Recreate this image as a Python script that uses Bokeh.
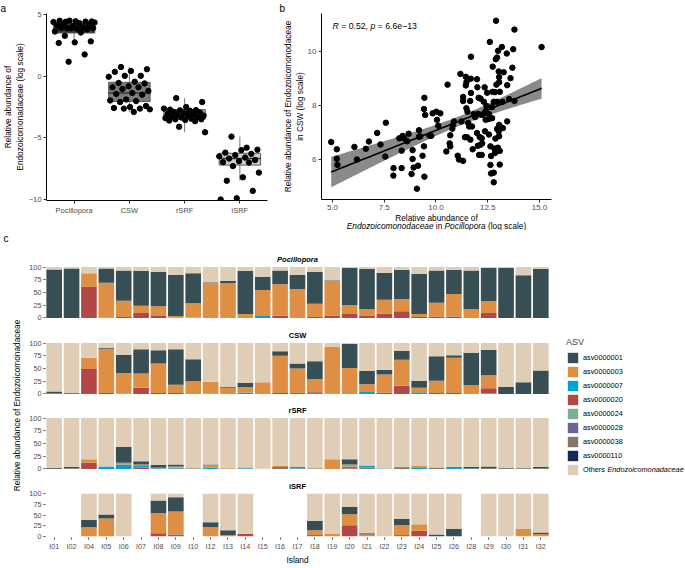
import math
import numpy as np
from bokeh.plotting import figure
from bokeh.models import (FactorRange, Range1d, Label, Legend, LegendItem, Title,
                          FixedTicker, PrintfTickFormatter, ColumnDataSource)
from bokeh.layouts import row, column
from bokeh.embed import file_html
from bokeh.resources import INLINE

# ------------------------------------------------------------------ data
# panel a : log relative abundance per compartment
groups = ["Pocillopora", "CSW", "rSRF", "iSRF"]
poc_vals = [4.41, 4.43, 4.45, 4.49, 4.42, 4.50, 4.39, 4.30, 4.23, 4.15, 4.07, 4.10, 3.94, 3.88,
            3.90, 3.85, 3.92, 3.80, 3.88, 3.62, 3.54, 3.27, 2.82, 2.74, 2.69, 1.76, 1.17, 4.35]
csw_vals = [0.74, 0.56, 0.42, 0.35, 0.03, 0.03, -0.05, -0.45, -0.55, -0.59, -0.82, -0.90, -0.90,
            -1.04, -1.20, -1.36, -1.44, -1.50, -1.89, -1.97, -2.02, -2.10, -2.42, -2.50, -2.58,
            -2.63, -2.63, -2.69, -2.90]
rsrf_vals = [-1.78, -2.10, -2.50, -2.71, -2.75, -2.77, -2.63, -2.80, -2.90, -2.95, -3.00, -3.05,
             -3.10, -3.15, -3.20, -3.20, -3.25, -3.30, -3.35, -3.40, -3.45, -3.50, -3.50, -3.55,
             -3.60, -3.65, -4.10, -4.55, -2.85]
isrf_vals = [-4.90, -5.96, -6.00, -6.20, -6.30, -6.40, -6.50, -6.60, -6.68, -6.80, -6.90, -6.97,
             -7.00, -7.29, -7.82, -8.20, -8.48, -9.30, -9.90, -10.00, -5.80]
box_lo = [2.65, -2.90, -4.55, -8.48]
box_q1 = [3.50, -2.05, -3.48, -7.21]
box_med = [3.80, -1.36, -3.16, -6.68]
box_q3 = [4.30, -0.50, -2.71, -6.25]
box_hi = [4.55, 0.74, -1.78, -4.90]

# panel b : Pocillopora vs CSW
b_x = [4.94, 5.21, 5.21, 5.24, 6.06, 6.18, 6.61, 6.76, 7.16, 7.32,
       7.58, 7.55, 7.95, 7.94, 8.23, 8.34, 8.34, 8.39, 8.47, 8.68,
       8.61, 8.87, 8.87, 8.82, 8.92, 9.08, 9.13, 9.18, 9.18, 9.24,
       9.35, 9.42, 9.44, 9.42, 9.48, 9.44, 9.68, 9.77, 9.84, 10.02,
       10.21, 10.05, 10.11, 10.56, 10.50, 10.69, 10.66, 10.69, 10.82, 10.79,
       10.87, 11.05, 11.11, 11.18, 11.23, 11.31, 11.31, 11.31, 11.44, 11.47,
       11.44, 11.40, 11.50, 11.47, 11.52, 11.56, 11.60, 11.65, 11.69, 11.68,
       11.69, 11.66, 11.74, 11.77, 11.82, 11.89, 11.98, 12.00, 12.03, 11.98,
       12.06, 12.15, 12.11, 12.21, 12.15, 12.23, 12.02, 12.08, 12.21, 12.23,
       12.40, 12.35, 12.31, 12.44, 12.40, 12.47, 12.37, 12.47, 12.60, 12.56,
       12.55, 12.56, 12.63, 12.66, 12.63, 12.66, 12.73, 12.85, 12.71, 12.79,
       12.74, 12.71, 12.79, 12.79, 12.82, 12.85, 12.87, 12.89, 12.95, 12.90,
       12.92, 12.95, 13.03, 12.95, 13.00, 13.03, 13.05, 13.05, 13.08, 12.99,
       13.05, 13.11, 13.05, 13.08, 13.08, 13.18, 13.21, 13.27, 13.23, 13.42,
       13.44, 13.44, 13.53, 13.60, 13.69, 13.73, 13.79, 13.79, 15.10]
b_y = [6.64, 6.37, 6.02, 5.79, 6.46, 5.99, 6.39, 6.66, 6.98, 6.55,
       7.36, 6.10, 5.67, 5.39, 6.78, 6.32, 5.67, 6.87, 6.77, 6.95,
       6.67, 6.34, 6.01, 5.45, 5.69, 4.90, 5.76, 7.08, 6.84, 6.85,
       6.13, 6.48, 8.29, 7.87, 7.65, 5.35, 6.88, 6.87, 7.71, 7.77,
       7.71, 7.47, 7.25, 8.78, 6.29, 6.89, 6.59, 6.48, 7.28, 7.14,
       7.41, 6.13, 5.99, 9.18, 7.41, 8.32, 8.17, 5.94, 9.07, 8.87,
       8.75, 6.82, 6.82, 7.90, 7.77, 7.35, 7.22, 8.17, 9.82, 9.00,
       8.47, 6.73, 7.22, 6.37, 7.68, 7.57, 8.98, 8.68, 7.69, 6.98,
       8.29, 8.26, 6.83, 6.78, 6.54, 6.59, 6.50, 6.16, 6.16, 7.65,
       7.47, 8.68, 8.14, 7.99, 7.80, 7.71, 7.04, 8.48, 10.37, 7.68,
       7.50, 6.92, 6.48, 6.12, 5.79, 5.47, 8.51, 8.50, 7.94, 8.14,
       9.45, 7.53, 5.14, 5.50, 6.40, 6.23, 6.77, 9.73, 9.79, 11.16,
       8.78, 7.13, 7.04, 8.14, 10.04, 9.27, 9.06, 8.87, 8.51, 6.43,
       7.28, 7.20, 6.86, 5.80, 6.31, 10.18, 8.14, 9.24, 7.16, 9.94,
       7.41, 8.76, 8.24, 9.02, 9.41, 10.10, 10.83, 8.17, 10.18]

# panel c : ASV composition per island and compartment
islands = ["I01", "I02", "I04", "I05", "I06", "I07", "I08", "I09", "I10", "I12", "I13", "I14",
           "I15", "I16", "I17", "I18", "I19", "I20", "I21", "I22", "I23", "I24", "I25", "I26",
           "I28", "I29", "I30", "I31", "I32"]

poc_asv1 = [95, 97, 0, 28, 59, 68, 67, 81, 59, 1, 5, 84, 26, 27, 28, 62, 1, 73, 79, 53, 57, 79, 63, 47, 76, 65, 98, 84, 96]
poc_asv3 = [0, 0, 27, 68, 32, 14, 19, 3, 28, 69, 68, 8, 51, 61, 55, 26, 68, 17, 13, 27, 24, 6, 27, 44, 17, 23, 0, 0, 0]
poc_asv7 = [0, 0, 0, 0, 0, 0, 0, 0, 0, 0, 0, 0, 4, 0, 0, 0, 0, 0, 0, 0, 0, 0, 0, 0, 0, 0, 0, 0, 0]
poc_asv20 = [0, 0, 61, 1, 2, 10, 4, 1, 0, 0, 0, 0, 0, 5, 0, 2, 5, 8, 4, 9, 13, 2, 3, 3, 0, 10, 0, 0, 0]
poc_asv24 = [0, 0, 0, 0, 0, 0, 0, 0, 1, 0, 0, 0, 0, 0, 2, 0, 0, 0, 0, 0, 0, 0, 0, 0, 0, 0, 0, 0, 0]
poc_asv28 = [0, 0, 0, 0, 0, 0, 0, 0, 0, 0, 0, 0, 0, 0, 0, 0, 0, 0, 0, 0, 0, 0, 0, 0, 0, 0, 0, 0, 0]
poc_asv38 = [0, 0, 0, 0, 0, 0, 0, 0, 0, 0, 0, 0, 0, 0, 0, 0, 0, 0, 0, 0, 0, 0, 0, 0, 0, 0, 0, 0, 0]
poc_asv110 = [0, 0, 0, 0, 0, 0, 0, 0, 0, 0, 0, 0, 0, 0, 0, 0, 0, 0, 0, 0, 0, 0, 0, 0, 0, 0, 0, 0, 0]
poc_others = [5, 3, 12, 3, 7, 8, 10, 15, 12, 30, 27, 8, 19, 7, 15, 10, 26, 2, 4, 11, 6, 13, 7, 6, 7, 2, 2, 16, 4]

csw_asv1 = [4, 0, 0, 1, 36, 48, 26, 70, 43, 0, 2, 9, 0, 9, 10, 35, 0, 47, 26, 9, 18, 14, 48, 5, 64, 50, 14, 23, 46]
csw_asv3 = [0, 0, 22, 87, 40, 28, 58, 16, 25, 23, 12, 10, 23, 73, 48, 25, 92, 51, 15, 35, 51, 8, 24, 69, 17, 26, 0, 0, 0]
csw_asv7 = [1, 0, 0, 0, 1, 0, 0, 0, 0, 1, 0, 3, 0, 0, 2, 0, 0, 0, 4, 0, 0, 0, 0, 0, 0, 0, 0, 0, 0]
csw_asv20 = [0, 0, 49, 2, 0, 12, 2, 2, 0, 0, 0, 0, 0, 2, 0, 1, 1, 0, 0, 3, 16, 0, 2, 2, 0, 10, 0, 0, 0]
csw_asv24 = [0, 0, 0, 0, 0, 0, 0, 0, 0, 0, 0, 0, 0, 0, 0, 0, 0, 0, 0, 0, 0, 2, 0, 0, 0, 0, 0, 0, 0]
csw_asv28 = [0, 0, 0, 0, 0, 0, 0, 0, 0, 0, 0, 0, 0, 0, 0, 0, 0, 0, 0, 0, 0, 0, 0, 0, 0, 0, 0, 0, 0]
csw_asv38 = [0, 2, 0, 0, 0, 0, 0, 0, 0, 0, 0, 0, 0, 0, 0, 3, 0, 0, 0, 0, 0, 2, 0, 0, 0, 1, 0, 0, 0]
csw_asv110 = [0, 0, 0, 0, 0, 0, 0, 0, 0, 0, 0, 0, 0, 0, 0, 0, 0, 0, 0, 0, 0, 0, 0, 0, 0, 0, 0, 0, 0]
csw_others = [95, 98, 29, 10, 23, 12, 14, 12, 32, 76, 86, 78, 77, 16, 40, 36, 7, 2, 55, 53, 15, 74, 26, 24, 19, 13, 86, 77, 54]

rsrf_asv1 = [1.5, 3, 0, 0, 31, 6, 4, 4, 0, 1, 0, 0, 0, 0, 0, 0, 0, 10, 0, 0, 0, 0, 0, 0, 3, 3, 1, 1.5, 3]
rsrf_asv3 = [0, 0, 7, 0, 3, 3, 0, 2, 2, 5, 1.5, 0, 0, 3, 0, 2, 19, 4, 0, 0, 0, 5, 0, 0, 0, 0, 0, 0, 0]
rsrf_asv7 = [0, 0, 0, 5, 9, 3, 3, 2, 1, 3, 0, 2, 0, 2, 3, 1, 0, 3, 4, 1, 0, 2, 1, 4, 1, 0, 0, 0, 0]
rsrf_asv20 = [0, 0, 12, 0, 0, 3, 0, 0, 0, 0, 0, 0, 0, 0, 0, 0, 0, 1, 0, 0, 1, 0, 0, 0, 0, 0, 0, 0, 0]
rsrf_asv24 = [0, 0, 0, 0, 0, 0, 0, 0, 0, 0, 0, 0, 0, 0, 0, 0, 0, 0, 0, 0, 0, 0, 0, 0, 0, 0, 0, 0, 0]
rsrf_asv28 = [0, 0, 0, 0, 0, 0, 0, 0, 0, 0, 0, 0, 0, 0, 0, 0, 0, 0, 0, 0, 0, 0, 0, 0, 0, 0, 0, 0, 0]
rsrf_asv38 = [0.5, 1.5, 0, 0, 0, 0, 1, 1, 0, 0, 0, 1, 0.5, 2, 1, 0, 0, 1, 3, 0, 3, 0, 2, 0, 0, 2, 1, 0, 1]
rsrf_asv110 = [0, 0, 0, 0, 0, 0, 0, 0, 0, 0, 0, 0, 0, 0, 0, 0, 0, 0, 0, 0, 0, 0, 0, 0, 0, 0, 0, 0, 0]
rsrf_others = [98, 95.5, 81, 95, 57, 85, 92, 91, 97, 91, 98.5, 97, 99.5, 93, 96, 97, 81, 81, 93, 99, 96, 93, 97, 96, 96, 95, 98, 98.5, 96]

N = None  # island not sampled
isrf_asv1 = [N, N, 17, 9, 0, N, 30, 34, N, 11, 11, 1, N, N, N, 22, 0, 17, 3, 0, 15, 0, 4, 17, N, 0, 0, 0, 4]
isrf_asv3 = [N, N, 21, 42, 0, N, 47, 54, N, 22, 3, 0, N, N, N, 11, 5, 26, 4, 0, 23, 15, 0, 0, N, 0, 0, 17, 5]
isrf_asv7 = [N, N, 0, 0, 0, N, 0, 0, N, 0, 0, 0, N, N, N, 3, 0, 0, 0, 0, 0, 0, 0, 0, N, 0, 0, 0, 0]
isrf_asv20 = [N, N, 0, 0, 0, N, 7, 0, N, 0, 0, 5, N, N, N, 0, 0, 26, 0, 0, 0, 13, 0, 0, N, 0, 0, 0, 0]
isrf_asv24 = [N, N, 0, 0, 0, N, 0, 0, N, 0, 0, 0, N, N, N, 0, 0, 0, 0, 0, 0, 0, 0, 0, N, 0, 0, 0, 0]
isrf_asv28 = [N, N, 0, 0, 0, N, 0, 4, N, 0, 0, 0, N, N, N, 0, 0, 0, 0, 0, 0, 0, 0, 0, N, 0, 0, 0, 0]
isrf_asv38 = [N, N, 0, 0, 0, N, 0, 0, N, 0, 0, 0, N, N, N, 0, 0, 0, 0, 0, 3, 0, 0, 0, N, 0, 0, 0, 0]
isrf_asv110 = [N, N, 0, 0, 0, N, 0, 0, N, 0, 0, 0, N, N, N, 0, 0, 0, 0, 0, 0, 0, 0, 0, N, 0, 0, 0, 0]
isrf_others = [N, N, 62, 49, 100, N, 16, 8, N, 67, 86, 94, N, N, N, 64, 95, 31, 93, 100, 59, 72, 96, 83, N, 100, 100, 83, 91]

asv_keys = ["asv1", "asv3", "asv7", "asv20", "asv24", "asv28", "asv38", "asv110", "others"]
asv_labels = ["asv0000001", "asv0000003", "asv0000007", "asv0000020", "asv0000024",
              "asv0000028", "asv0000038", "asv0000110", "Others"]

# ------------------------------------------------------------------ style
FONT = "Liberation Sans"
TICK = "#4d4d4d"
ASV_COLORS = {"asv1": "#374E55", "asv3": "#DF8F44", "asv7": "#00A1D5", "asv20": "#B24745",
              "asv24": "#79AF97", "asv28": "#6A6599", "asv38": "#80796B", "asv110": "#14295A",
              "others": "#DFCDB5"}
BOX_FILL = ["#393939", "#7d7d7d", "#a2a2a2", "#cdcdcd"]

ARIAL = {" ": 278, "(": 333, ")": 333, ",": 278, ".": 278, "-": 333, "=": 584, "\u2212": 584,
         "a": 556, "b": 556, "c": 500, "d": 556, "e": 556, "f": 278, "g": 556, "h": 556, "i": 222,
         "j": 222, "k": 500, "l": 222, "m": 833, "n": 556, "o": 556, "p": 556, "q": 556, "r": 333,
         "s": 500, "t": 278, "u": 556, "v": 500, "w": 722, "x": 500, "y": 500, "z": 500,
         "A": 667, "C": 722, "E": 667, "I": 278, "O": 778, "P": 667, "R": 722, "S": 667, "W": 944}


def text_w(s, size):
    return sum(ARIAL.get(ch, 556) for ch in s) * size / 1000.0


def rich(p, pieces, x, y, size, align="center"):
    """Horizontal mixed upright/italic text made of adjacent, centre-anchored labels."""
    total = sum(text_w(t, size) for t, _ in pieces)
    pos = -total / 2.0 if align == "center" else 0.0
    for t, style in pieces:
        lead = len(t) - len(t.lstrip(" "))
        shown = t.strip(" ")
        if shown:
            mid = pos + text_w(" " * lead, size) + text_w(shown, size) / 2.0
            p.add_layout(Label(x_units="screen", y_units="screen", x=x + mid, y=y, text=shown,
                               text_font=FONT, text_font_size=f"{size}px",
                               text_font_style=style, text_align="center",
                               text_baseline="middle", text_color="black"))
        pos += text_w(t, size)


def panel_letter(p, s, offset):
    p.title.text = s
    p.title.align = "left"
    p.title.offset = offset
    p.title.standoff = 0
    p.title.text_font = FONT
    p.title.text_font_size = "10px"
    p.title.text_font_style = "normal"
    p.title.text_color = "black"


def style_axis(ax, size):
    ax.axis_line_color = "black"
    ax.axis_line_width = 1
    ax.major_tick_line_color = "#333333"
    ax.major_tick_out = 3
    ax.major_tick_in = 0
    ax.minor_tick_line_color = None
    ax.major_label_text_font = FONT
    ax.major_label_text_font_size = size
    ax.major_label_text_color = TICK
    ax.major_label_standoff = 2


def axis_title(ax, text, standoff=3):
    ax.axis_label = text
    ax.axis_label_text_font = FONT
    ax.axis_label_text_font_size = "8.3px"
    ax.axis_label_text_font_style = "normal"
    ax.axis_label_text_color = "black"
    ax.axis_label_standoff = standoff


# ------------------------------------------------------------------ panel a
fa = figure(width=270, height=230, x_range=FactorRange(*groups), y_range=Range1d(-10.08, 5.08),
            output_backend="svg", toolbar_location=None,
            min_border_left=42, min_border_right=3, min_border_top=12, min_border_bottom=30)
fa.segment(x0=groups, y0=box_q3, x1=groups, y1=box_hi, line_color="#777777", line_width=1)
fa.segment(x0=groups, y0=box_q1, x1=groups, y1=box_lo, line_color="#777777", line_width=1)
fa.vbar(x=groups, bottom=box_q1, top=box_q3, width=0.75, fill_color=BOX_FILL,
        line_color="#5a5a5a", line_width=1)
fa.scatter(x=groups, y=box_med, marker="dash", size=42, line_color="#3a3a3a", line_width=1.5)

pts_x, pts_y = [], []
for g, vals in zip(groups, [poc_vals, csw_vals, rsrf_vals, isrf_vals]):
    for i, v in enumerate(vals):
        pts_x.append((g, ((i * 0.6180339887 + 0.3) % 1.0 - 0.5) * 0.76))
        pts_y.append(v)
fa.scatter(x=pts_x, y=pts_y, size=5.4, color="black")
style_axis(fa.xaxis[0], "7.5px")
style_axis(fa.yaxis[0], "7.3px")
fa.yaxis.ticker = FixedTicker(ticks=[-10, -5, 0, 5])
axis_title(fa.yaxis[0], "Relative abundance of\nEndozoicomonadaceae (log scale)", 1)
fa.grid.visible = False
fa.outline_line_color = None
panel_letter(fa, "a", -46)

# ------------------------------------------------------------------ panel b
fb = figure(width=290, height=213, x_range=Range1d(4.47, 15.58), y_range=Range1d(4.50, 11.43),
            output_backend="svg", toolbar_location=None,
            min_border_left=51, min_border_right=9, min_border_top=12, min_border_bottom=14)
xb = np.array(b_x)
yb = np.array(b_y)
slope, intercept = np.polyfit(xb, yb, 1)
n = len(xb)
resid = yb - (slope * xb + intercept)
s = math.sqrt(float(np.sum(resid ** 2)) / (n - 2))
xg = np.linspace(xb.min(), xb.max(), 80)
fit = slope * xg + intercept
se = s * np.sqrt(1.0 / n + (xg - xb.mean()) ** 2 / np.sum((xb - xb.mean()) ** 2))
fb.varea(x=xg, y1=fit - 1.976 * se, y2=fit + 1.976 * se, fill_color="#8a8a8a", fill_alpha=1.0)
fb.scatter(x=b_x, y=b_y, size=5.5, color="black")
fb.line(x=xg, y=fit, line_color="black", line_width=1.6)
style_axis(fb.xaxis[0], "8px")
style_axis(fb.yaxis[0], "8px")
fb.xaxis.ticker = FixedTicker(ticks=[5, 7.5, 10, 12.5, 15])
fb.xaxis.formatter = PrintfTickFormatter(format="%.1f")
fb.yaxis.ticker = FixedTicker(ticks=[6, 8, 10])
axis_title(fb.yaxis[0], "Relative abundance of Endozoicomonodaceae\nin CSW (log scale)", 0)
fb.grid.visible = False
fb.outline_line_color = None
panel_letter(fb, "b", -42)
rich(fb, [("R", "italic"), (" = 0.52, ", "normal"), ("p", "italic"),
          (" = 6.6e\u221213", "normal")], 11, 174, 8.7, align="left")

# x-axis title of panel b (mixed upright / italic), frame aligned with fb's frame
xb_lab = figure(width=290, height=17, output_backend="svg", toolbar_location=None,
                x_axis_location=None, y_axis_location=None,
                min_border_left=51, min_border_right=9, min_border_top=0, min_border_bottom=0,
                x_range=Range1d(0, 1), y_range=Range1d(0, 1))
xb_lab.grid.visible = False
xb_lab.outline_line_color = None
rich(xb_lab, [("Relative abundance of", "normal")], 115, 12.5, 8.3)
rich(xb_lab, [("Endozoicomonodaceae", "italic"), (" in ", "normal"), ("Pocillopora", "italic"),
              (" (log scale)", "normal")], 115, 4.5, 8.3)

# ------------------------------------------------------------------ panel c
x_rng = FactorRange(*islands)
stack_order = ["asv110", "asv38", "asv28", "asv24", "asv20", "asv7", "asv3", "asv1", "others"]


def to_num(lst):
    return [float("nan") if v is None else float(v) for v in lst]


facet_data = [
    ("Pocillopora", "bold italic", dict(asv1=poc_asv1, asv3=poc_asv3, asv7=poc_asv7, asv20=poc_asv20,
                                        asv24=poc_asv24, asv28=poc_asv28, asv38=poc_asv38,
                                        asv110=poc_asv110, others=poc_others)),
    ("CSW", "bold", dict(asv1=csw_asv1, asv3=csw_asv3, asv7=csw_asv7, asv20=csw_asv20,
                         asv24=csw_asv24, asv28=csw_asv28, asv38=csw_asv38,
                         asv110=csw_asv110, others=csw_others)),
    ("rSRF", "bold", dict(asv1=rsrf_asv1, asv3=rsrf_asv3, asv7=rsrf_asv7, asv20=rsrf_asv20,
                          asv24=rsrf_asv24, asv28=rsrf_asv28, asv38=rsrf_asv38,
                          asv110=rsrf_asv110, others=rsrf_others)),
    ("iSRF", "bold", dict(asv1=isrf_asv1, asv3=isrf_asv3, asv7=isrf_asv7, asv20=isrf_asv20,
                          asv24=isrf_asv24, asv28=isrf_asv28, asv38=isrf_asv38,
                          asv110=isrf_asv110, others=isrf_others)),
]
facet_geom = [(92, 35, 3, False), (75, 19, 2, False), (75, 19, 2, False), (95, 20, 21, True)]
col_h = sum(g[0] for g in facet_geom)

facets, sources = [], []
for (name, fstyle, series), (h, top, bottom, show_x) in zip(facet_data, facet_geom):
    f = figure(width=527, height=h, x_range=x_rng, y_range=Range1d(-3, 103),
               output_backend="svg", toolbar_location=None, title=name,
               x_axis_location="below" if show_x else None,
               min_border_left=17, min_border_right=4, min_border_top=top,
               min_border_bottom=bottom)
    f.title.align = "center"
    f.title.text_font = FONT
    f.title.text_font_size = "7.5px"
    f.title.text_font_style = fstyle
    f.title.text_color = "black"
    f.title.standoff = 4
    data = dict(island=islands)
    for k in stack_order:
        data[k] = to_num(series[k])
    src = ColumnDataSource(data)
    sources.append(src)
    f.vbar_stack(stack_order, x="island", width=0.9, source=src,
                 fill_color=[ASV_COLORS[k] for k in stack_order], line_color=None)
    ya = f.yaxis[0]
    style_axis(ya, "7.3px")
    ya.axis_line_color = None
    ya.major_tick_line_color = TICK
    ya.major_tick_out = 2
    ya.ticker = FixedTicker(ticks=[0, 25, 50, 75, 100])
    if show_x:
        xa = f.xaxis[0]
        style_axis(xa, "7.2px")
        xa.axis_line_color = None
        xa.major_tick_line_color = TICK
        xa.major_tick_out = 2
        axis_title(xa, "Island", 1)
    f.grid.visible = False
    f.outline_line_color = None
    facets.append(f)

# shared y-axis title of panel c (a side title of a narrow, empty figure) and the letter c
lf = figure(width=26, height=col_h, output_backend="svg", toolbar_location=None,
            x_axis_location=None, y_axis_location=None,
            min_border_left=21, min_border_right=0, min_border_top=13, min_border_bottom=0,
            x_range=Range1d(0, 1), y_range=Range1d(0, 1))
lf.grid.visible = False
lf.outline_line_color = None
lf.add_layout(Title(text="Relative abundance of Endozoicomonadaceae", align="center",
                    text_font=FONT, text_font_size="8.3px", text_font_style="normal",
                    text_color="black", standoff=0), "left")
panel_letter(lf, "c", -18)

# legend column: the iSRF stacks are drawn here too, but outside of the visible y range,
# so that only their legend swatches show
lg = figure(width=132, height=col_h, output_backend="svg", toolbar_location=None,
            x_axis_location=None, y_axis_location=None, min_border=0,
            x_range=x_rng, y_range=Range1d(1000, 1100))
lg.grid.visible = False
lg.outline_line_color = None
items = []
for k, lab in zip(asv_keys, asv_labels):
    r = lg.vbar(x="island", top=k, width=0.9, source=sources[-1], fill_color=ASV_COLORS[k],
                line_color=None)
    items.append(LegendItem(label=lab, renderers=[r]))
leg = Legend(items=items, location=(13, 91), title="ASV", title_text_font=FONT,
             title_text_font_size="9px", title_text_font_style="normal", title_standoff=3,
             label_text_font=FONT, label_text_font_size="7.3px", label_text_color="black",
             glyph_width=13, glyph_height=13, label_height=14, label_standoff=4, spacing=0,
             padding=0, margin=0, border_line_color=None, background_fill_alpha=0)
lg.add_layout(leg)
lg.add_layout(Label(x_units="screen", y_units="screen", x=30 + text_w("Others ", 7.3), y=98,
                    text="Endozoicomonadaceae", text_font=FONT, text_font_size="7.3px",
                    text_font_style="italic", text_align="left", text_baseline="middle",
                    text_color="black"))

layout = column(row(fa, column(fb, xb_lab)),
                row(lf, column(*facets), lg))
open("out.html", "w").write(file_html(layout, INLINE, title="Endozoicomonadaceae"))
